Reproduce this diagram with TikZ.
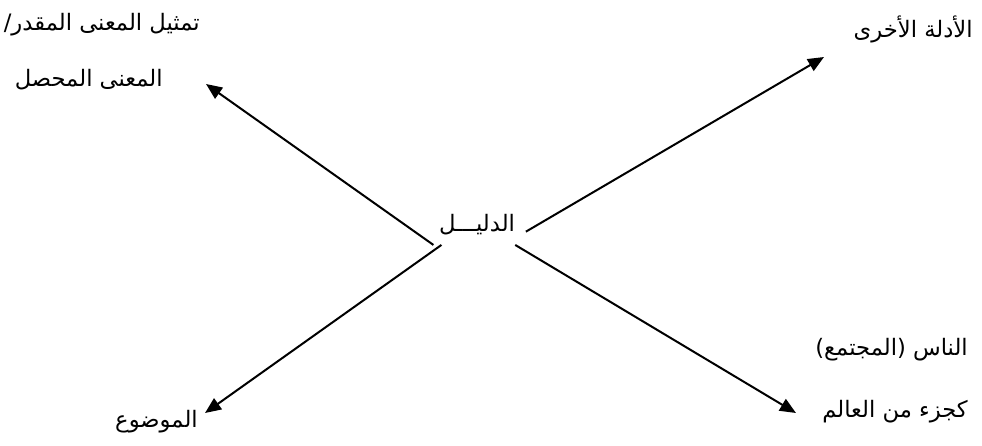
\documentclass[tikz,border=0pt]{standalone}
\usepackage{fontspec}
\newfontfamily\arabicfont[Script=Arabic]{DejaVu Sans}
\TeXXeTstate=1
\usetikzlibrary{arrows.meta, positioning}

\begin{document}
\begin{tikzpicture}[x=0.75pt, y=-0.75pt,
      every node/.style={font=\arabicfont\fontsize{17}{20}\selectfont, inner sep=0pt},
      lbl/.style={anchor=east},
      arrow/.style={-{Triangle[length=12pt, width=10pt]}, line width=1.5pt}
    ]
    \useasboundingbox (0,0) rectangle (982,446);

    % centre
    \node[inner xsep=2pt, inner ysep=7pt] (dalil) at (477,225) {\beginR الدليـــل\endR};

    % labels
    \node[lbl] (tamthil) at (200,25) {\beginR تمثيل المعنى المقدر/\endR};
    \node[lbl] (muhassal) at (163,80) {\beginR المعنى المحصل\endR};
    \node[lbl] (adilla) at (973,29) {\beginR الأدلة الأخرى\endR};
    \node[lbl] (nas) at (968,350) {\beginR الناس (المجتمع)\endR};
    \node[lbl] (juz) at (968,412) {\beginR كجزء من العالم\endR};
    \node[lbl] (mawdu) at (198,422) {\beginR الموضوع\endR};

    % arrow tips
    \coordinate (tipTL) at (206,84);
    \coordinate (tipTR) at (824,57);
    \coordinate (tipBR) at (796,413);
    \coordinate (tipBL) at (205,413);

    \draw[arrow] ([xshift=-2pt]dalil.south west) -- (tipTL);
    \draw[arrow] ([xshift=6pt, yshift=-5pt]dalil.east) -- (tipTR);
    \draw[arrow] ([xshift=-2pt]dalil.south east) -- (tipBR);
    \draw[arrow] ([xshift=4pt]dalil.south west) -- (tipBL);
  \end{tikzpicture}
\end{document}
